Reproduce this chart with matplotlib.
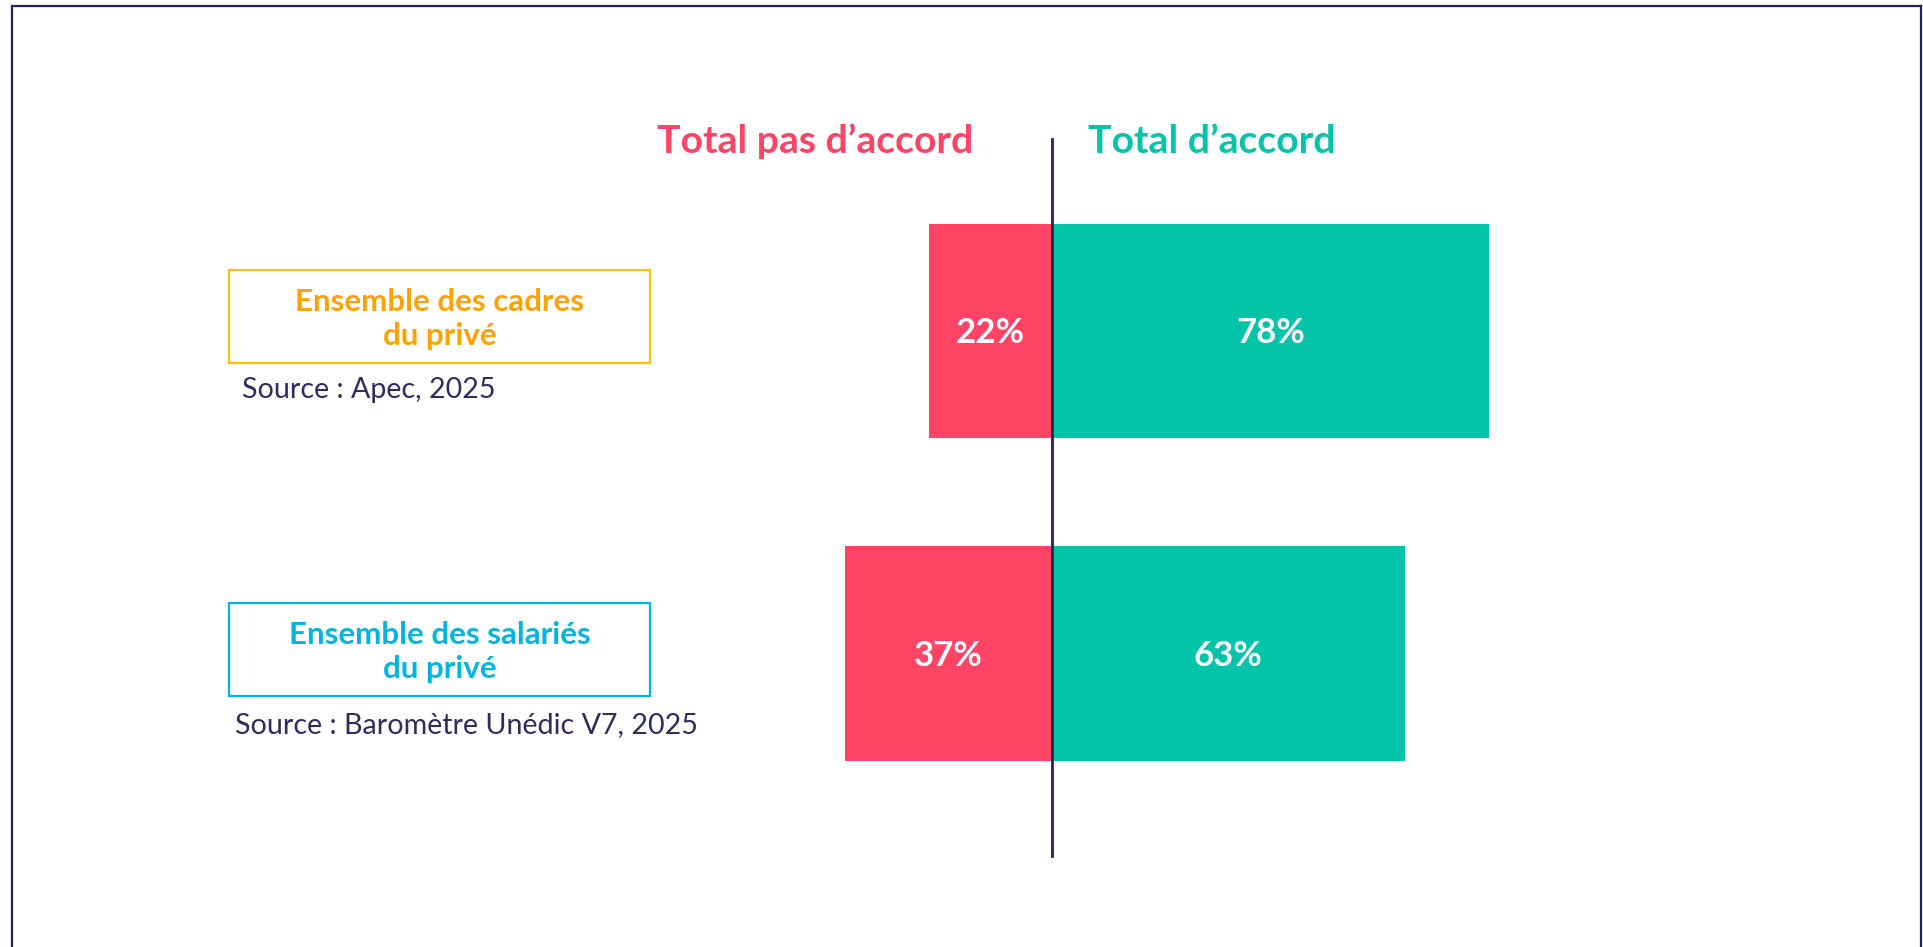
import matplotlib.pyplot as plt
from matplotlib.patches import Rectangle
from matplotlib.lines import Line2D

# données
groupes = ['Ensemble des cadres\ndu privé', 'Ensemble des salariés\ndu privé']
sources = ['Source : Apec, 2025', 'Source : Baromètre Unédic V7, 2025']
pas_accord = [22, 37]
accord = [78, 63]

ROUGE = '#FF4466'
VERT = '#03C4A8'
NAVY = '#22225A'
TEXTE = '#2E2D5C'
couleurs_txt = ['#FFA200', '#00B4E2']
couleurs_cadre = ['#FFC000', '#00B4E2']

W, H = 1924, 947
plt.rcParams['font.family'] = ['Lato', 'DejaVu Sans']

fig = plt.figure(figsize=(W / 100, H / 100), dpi=100)
ax = fig.add_axes([0, 0, 1, 1])

# échelle : 0 au centre (x=1052 px), ~5.6 px par point de %
px_pct = 5.6
x0 = 1052
ax.set_xlim(-x0 / px_pct, (W - x0) / px_pct)
# y : barre 0 centrée à 331 px, barre 1 à 653.5 px
y_unit = 322.5
ax.set_ylim((H - 331) / y_unit, -331 / y_unit)
ax.axis('off')

pos = list(range(len(groupes)))
h = 214.5 / y_unit
ax.barh(pos, [-v for v in pas_accord], height=h, color=ROUGE, linewidth=0)
ax.barh(pos, accord, height=h, color=VERT, linewidth=0)

off = 12.5 / y_unit
for i in pos:
    ax.text(-pas_accord[i] / 2, i + off, f'{pas_accord[i]}%', ha='center', va='baseline',
            color='white', fontsize=25, fontweight='bold')
    ax.text(accord[i] / 2, i + off, f'{accord[i]}%', ha='center', va='baseline',
            color='white', fontsize=25, fontweight='bold')

ax.axvline(0, ymin=1 - 856 / H, ymax=1 - 139 / H, color=NAVY, lw=2)


def fx(x):
    return x / W


def fy(y):
    return 1 - y / H


# en-têtes
fig.text(fx(973), fy(153), 'Total pas d\u2019accord', ha='right', va='baseline',
         color=ROUGE, fontsize=28.2, fontweight='bold')
fig.text(fx(1088), fy(153), 'Total d\u2019accord', ha='left', va='baseline',
         color=VERT, fontsize=28.2, fontweight='bold')

# cadres à gauche
boites = [(270, 363), (603, 696)]
src_pos = [(242, 398), (235, 733)]
for i in pos:
    top, bot = boites[i]
    fig.add_artist(Rectangle((fx(229), fy(bot)), fx(650) - fx(229), fy(top) - fy(bot),
                             transform=fig.transFigure, fill=False,
                             edgecolor=couleurs_cadre[i], lw=1.6))
    l1, l2 = groupes[i].split('\n')
    fig.text(fx(439.5), fy(top + 41), l1, ha='center', va='baseline',
             color=couleurs_txt[i], fontsize=22.5, fontweight='bold')
    fig.text(fx(439.5), fy(top + 75), l2, ha='center', va='baseline',
             color=couleurs_txt[i], fontsize=22.5, fontweight='bold')
    sx, sy = src_pos[i]
    fig.text(fx(sx), fy(sy), sources[i], ha='left', va='baseline',
             color=TEXTE, fontsize=20.6)

# bordure
for xs, ys in [([12, 12], [6, H]), ([12, 1921], [6, 6]), ([1921, 1921], [6, H])]:
    fig.add_artist(Line2D([fx(x) for x in xs], [fy(y) for y in ys],
                          transform=fig.transFigure, color=NAVY, lw=1.6))

fig.savefig('out.png', dpi=100)
